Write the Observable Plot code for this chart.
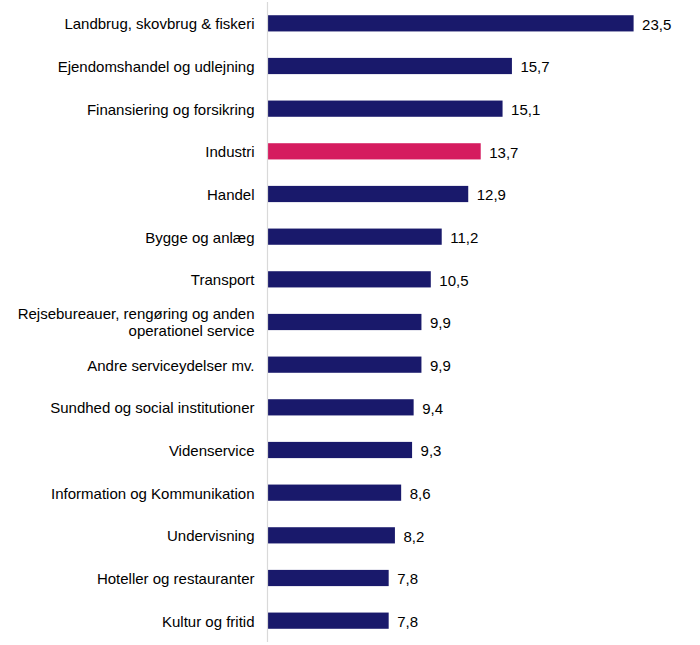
<!DOCTYPE html>
<html>
<head>
<meta charset="utf-8">
<script src="https://cdn.jsdelivr.net/npm/d3@7"></script>
<script src="https://cdn.jsdelivr.net/npm/@observablehq/plot@0.6"></script>
<style>
  html, body { margin: 0; padding: 0; background: #fff; }
  #chart svg { display: block; font-family: "Liberation Sans", Arial, sans-serif; }
</style>
</head>
<body>
<div id="chart"></div>
<script>
const categories = [
  "Landbrug, skovbrug & fiskeri",
  "Ejendomshandel og udlejning",
  "Finansiering og forsikring",
  "Industri",
  "Handel",
  "Bygge og anlæg",
  "Transport",
  "Rejsebureauer, rengøring og anden\noperationel service",
  "Andre serviceydelser mv.",
  "Sundhed og social institutioner",
  "Videnservice",
  "Information og Kommunikation",
  "Undervisning",
  "Hoteller og restauranter",
  "Kultur og fritid"
];
const values = [23.5, 15.7, 15.1, 13.7, 12.9, 11.2, 10.5, 9.9, 9.9, 9.4, 9.3, 8.6, 8.2, 7.8, 7.8];
const highlight = "Industri";

const data = categories.map((c, i) => ({ category: c, value: values[i], hl: c === highlight }));
const fmt = v => v.toFixed(1).replace(".", ",");

const chart = Plot.plot({
  width: 700,
  height: 645,
  marginLeft: 267,
  marginRight: 43,
  marginTop: 2,
  marginBottom: 3,
  style: { fontFamily: "'Liberation Sans', Arial, sans-serif", fontSize: "15px", color: "#000" },
  x: { domain: [0, 25], axis: null },
  y: { domain: categories, paddingInner: 0.62, paddingOuter: 0.31, round: false, label: null },
  marks: [
    Plot.barX(data, { y: "category", x: "value", fill: d => d.hl ? "#d51b5f" : "#19196b" }),
    Plot.ruleX([0], { stroke: "#d9d9d9", strokeWidth: 1.2 }),
    Plot.text(data, { y: "category", x: "value", text: d => fmt(d.value), textAnchor: "start", dx: 8, dy: 1, fontSize: 15, fill: "#000" }),
    Plot.axisY({ tickSize: 0, tickPadding: 13, fontSize: 15, lineHeight: 1.13, label: null, lineAnchor: "middle", textAnchor: "end", fill: "#000" })
  ]
});
document.getElementById("chart").append(chart);
</script>
</body>
</html>
